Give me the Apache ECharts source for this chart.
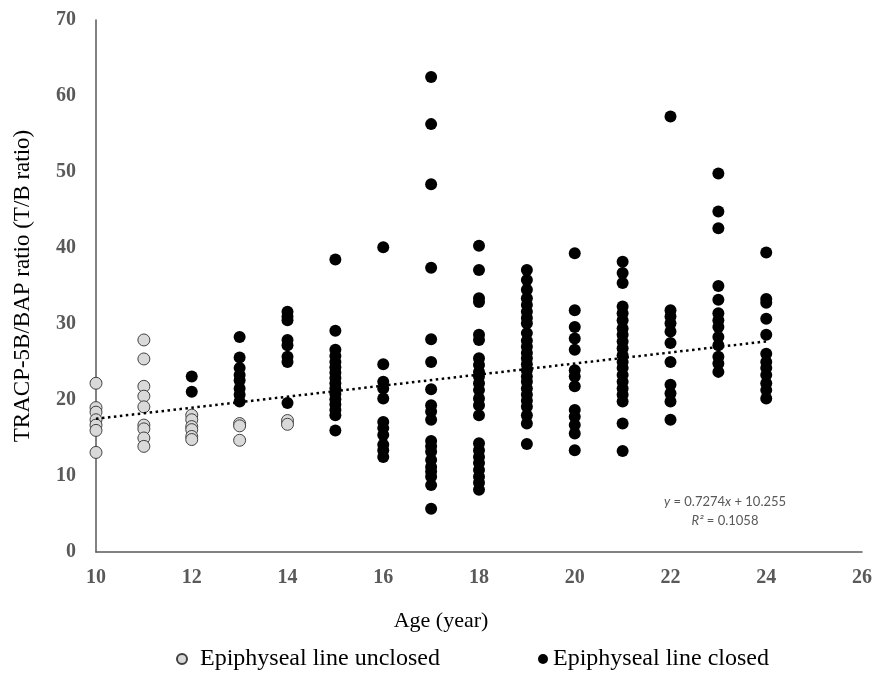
<!DOCTYPE html>
<html>
<head>
<meta charset="utf-8">
<script src="https://cdn.jsdelivr.net/npm/echarts@6/dist/echarts.min.js"></script>
<style>
  html, body { margin: 0; padding: 0; background: #fff; }
  #chart { width: 878px; height: 679px; }
</style>
</head>
<body>
<div id="chart"></div>
<script>
// T/B ratio by age
const unclosed10 = [22.2, 19.0, 18.4, 17.4, 16.7, 16.0, 13.1];
const unclosed11 = [27.9, 25.4, 21.8, 20.5, 19.1, 16.7, 16.2, 15.0, 13.9];
const unclosed12 = [18.0, 17.4, 16.5, 16.1, 15.2, 14.8];
const unclosed13 = [16.9, 16.6, 14.7];
const unclosed14 = [17.3, 16.8];

const closed12 = [23.1, 21.1];
const closed13 = [28.3, 25.6, 24.2, 23.3, 22.6, 21.5, 20.7, 19.8];
const closed14 = [31.6, 31.0, 30.5, 27.9, 27.2, 25.7, 25.0, 19.6];
const closed15 = [38.5, 29.1, 26.6, 25.8, 25.0, 24.3, 23.6, 22.9, 22.2, 21.5, 20.8, 20.1, 19.4, 18.7, 18.0, 16.0];
const closed16 = [40.1, 24.7, 22.4, 21.5, 20.2, 17.1, 16.3, 15.4, 14.1, 13.4, 12.5];
const closed17 = [62.5, 56.3, 48.4, 37.4, 28.0, 25.0, 21.4, 19.3, 18.5, 17.4, 14.6, 13.9, 13.2, 12.1, 11.2, 10.6, 9.9, 8.8, 5.7];
const closed18 = [40.3, 37.1, 33.4, 32.9, 28.6, 27.9, 25.5, 24.6, 23.7, 23.1, 22.2, 21.3, 20.2, 19.3, 18.0, 14.3, 13.4, 12.5, 11.7, 10.8, 9.9, 9.1, 8.2];
const closed19 = [37.1, 35.8, 34.5, 33.4, 32.5, 31.6, 30.8, 30.1, 28.8, 27.8, 27.0, 26.2, 25.5, 24.7, 23.9, 23.1, 22.4, 21.5, 20.7, 19.9, 19.1, 18.0, 16.9, 14.2];
const closed20 = [39.3, 31.8, 29.6, 28.1, 26.6, 23.9, 23.1, 21.8, 18.7, 17.8, 16.7, 15.6, 13.4];
const closed21 = [38.2, 36.7, 35.4, 32.3, 31.4, 30.5, 29.4, 28.6, 27.7, 26.8, 25.9, 25.0, 24.2, 23.3, 22.4, 21.5, 20.7, 19.8, 16.9, 13.3];
const closed22 = [57.3, 31.8, 31.0, 30.1, 29.0, 27.5, 25.0, 22.0, 20.9, 19.8, 17.4];
const closed23 = [49.8, 44.8, 42.6, 35.0, 33.2, 31.4, 30.5, 29.6, 28.3, 27.2, 25.7, 24.8, 23.7];
const closed24 = [39.4, 33.3, 32.8, 30.7, 28.6, 26.1, 25.0, 24.2, 23.3, 22.2, 21.3, 20.2];

// linear trend (y = 0.7274x + 10.255), end points
const trendX = [10, 24];
const trendY = [17.53, 27.71];

const unclosedGroups = [[10, unclosed10], [11, unclosed11], [12, unclosed12], [13, unclosed13], [14, unclosed14]];
const closedGroups = [
  [12, closed12], [13, closed13], [14, closed14], [15, closed15], [16, closed16],
  [17, closed17], [18, closed18], [19, closed19], [20, closed20], [21, closed21],
  [22, closed22], [23, closed23], [24, closed24],
];

function toPoints(groups) {
  const pts = [];
  groups.forEach(([age, vals]) => vals.forEach(v => pts.push([age, v])));
  return pts;
}

const SERIF = "'Liberation Serif', 'Times New Roman', serif";
const AXIS_GREY = "#595959";

const chart = echarts.init(document.getElementById("chart"));
chart.setOption({
  animation: false,
  grid: { left: 96, right: 16, top: 20, bottom: 127 },
  legend: [
    {
      data: ["Epiphyseal line unclosed"],
      left: 171, top: 642,
      itemWidth: 10, itemHeight: 10,
      textStyle: { fontFamily: SERIF, fontSize: 24, color: "#000", padding: [0, 0, 0, 8] },
    },
    {
      data: ["Epiphyseal line closed"],
      left: 533, top: 642,
      itemWidth: 10, itemHeight: 10,
      textStyle: { fontFamily: SERIF, fontSize: 24, color: "#000", padding: [0, 0, 0, 0] },
    },
  ],
  xAxis: {
    type: "value",
    min: 10, max: 26, interval: 2,
    axisLine: { lineStyle: { color: AXIS_GREY, width: 1.5 } },
    axisTick: { show: false },
    splitLine: { show: false },
    axisLabel: { fontFamily: SERIF, fontSize: 20, fontWeight: "bold", color: AXIS_GREY, margin: 16 },
  },
  yAxis: {
    type: "value",
    min: 0, max: 70, interval: 10,
    name: "TRACP-5B/BAP ratio (T/B ratio)",
    nameLocation: "middle",
    nameGap: 62,
    nameTextStyle: { fontFamily: SERIF, fontSize: 23, color: "#000" },
    axisLine: { show: true, lineStyle: { color: AXIS_GREY, width: 1.5 } },
    axisTick: { show: false },
    splitLine: { show: false },
    axisLabel: { fontFamily: SERIF, fontSize: 20, fontWeight: "bold", color: AXIS_GREY, margin: 20 },
  },
  graphic: [
    {
      type: "text",
      x: 441, y: 621,
      style: {
        text: "Age (year)",
        font: "22px " + SERIF,
        fill: "#000",
        align: "center",
        verticalAlign: "middle",
      },
    },
    {
      type: "text",
      x: 725, y: 502,
      style: {
        text: "{i|y} = 0.7274{i|x} + 10.255",
        font: "13px Lato, 'Open Sans', sans-serif",
        fill: AXIS_GREY,
        align: "center",
        verticalAlign: "middle",
        rich: { i: { fontStyle: "italic", fontFamily: "Lato", fontSize: 13, fill: AXIS_GREY } },
      },
    },
    {
      type: "text",
      x: 725, y: 521,
      style: {
        text: "{i|R²} = 0.1058",
        font: "13px Lato, 'Open Sans', sans-serif",
        fill: AXIS_GREY,
        align: "center",
        verticalAlign: "middle",
        rich: { i: { fontStyle: "italic", fontFamily: "Lato", fontSize: 13, fill: AXIS_GREY } },
      },
    },
  ],
  series: [
    {
      name: "Epiphyseal line closed",
      type: "scatter",
      symbol: "circle",
      symbolSize: 12,
      clip: false,
      itemStyle: { color: "#000", opacity: 1 },
      data: toPoints(closedGroups),
      z: 3,
    },
    {
      name: "Epiphyseal line unclosed",
      type: "scatter",
      symbol: "circle",
      symbolSize: 12,
      clip: false,
      itemStyle: { color: "#d9d9d9", borderColor: "#404040", borderWidth: 1, opacity: 1 },
      data: toPoints(unclosedGroups),
      z: 4,
    },
    {
      name: "trend",
      type: "line",
      symbol: "none",
      silent: true,
      data: trendX.map((x, i) => [x, trendY[i]]),
      lineStyle: { color: "#000", width: 2.5, type: [2.5, 3.5] },
      z: 5,
    },
  ],
});
</script>
</body>
</html>
